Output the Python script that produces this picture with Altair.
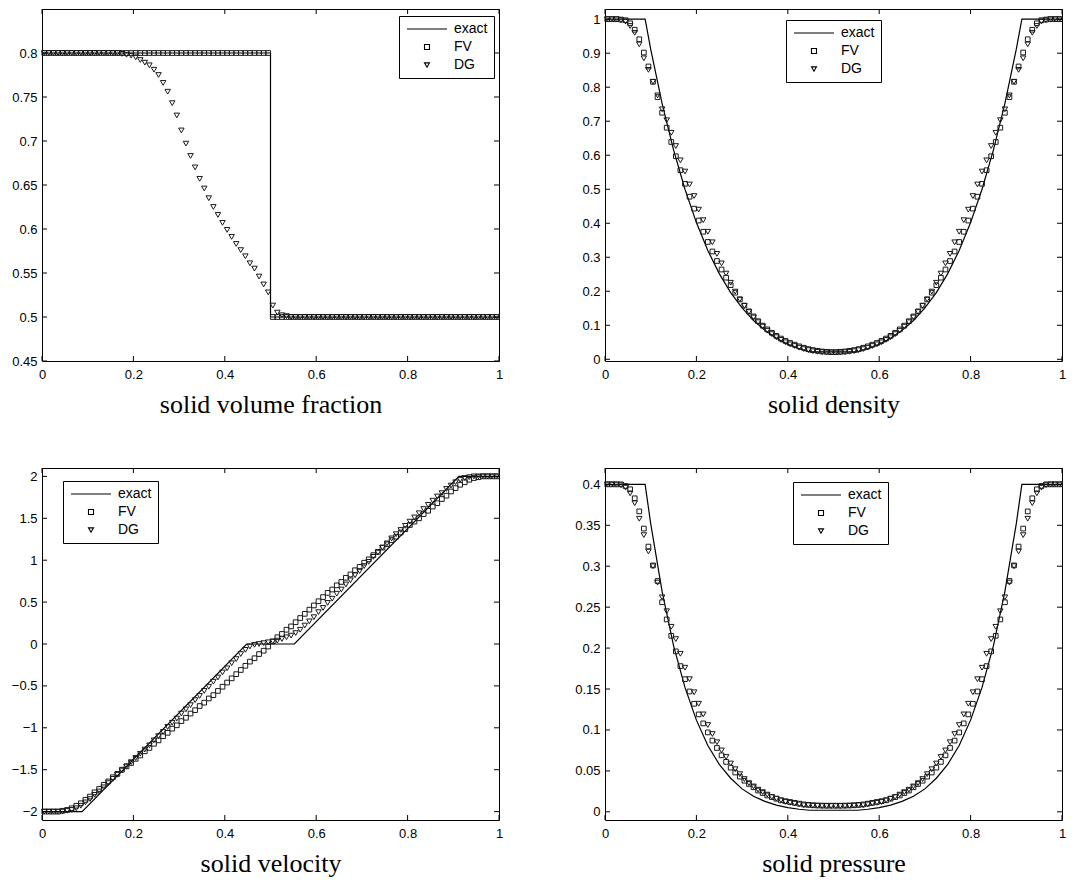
import altair as alt
import pandas as pd

# ---------------- data ----------------
X_CELLS = [round(0.005 + 0.01 * i, 3) for i in range(100)]
X_TICKS = [0, 0.2, 0.4, 0.6, 0.8, 1]

# solid volume fraction
VF_FV = [0.8, 0.8, 0.8, 0.8, 0.8, 0.8, 0.8, 0.8, 0.8, 0.8,
         0.8, 0.8, 0.8, 0.8, 0.8, 0.8, 0.8, 0.8, 0.8, 0.8,
         0.8, 0.8, 0.8, 0.8, 0.8, 0.8, 0.8, 0.8, 0.8, 0.8,
         0.8, 0.8, 0.8, 0.8, 0.8, 0.8, 0.8, 0.8, 0.8, 0.8,
         0.8, 0.8, 0.8, 0.8, 0.8, 0.8, 0.8, 0.8, 0.8, 0.8,
         0.5, 0.5, 0.5, 0.5, 0.5, 0.5, 0.5, 0.5, 0.5, 0.5,
         0.5, 0.5, 0.5, 0.5, 0.5, 0.5, 0.5, 0.5, 0.5, 0.5,
         0.5, 0.5, 0.5, 0.5, 0.5, 0.5, 0.5, 0.5, 0.5, 0.5,
         0.5, 0.5, 0.5, 0.5, 0.5, 0.5, 0.5, 0.5, 0.5, 0.5,
         0.5, 0.5, 0.5, 0.5, 0.5, 0.5, 0.5, 0.5, 0.5, 0.5]
VF_DG = [0.8, 0.8, 0.8, 0.8, 0.8, 0.8, 0.8, 0.8, 0.8, 0.8,
         0.8, 0.8, 0.8, 0.8, 0.8, 0.8, 0.8, 0.799, 0.798, 0.797,
         0.795, 0.792, 0.789, 0.786, 0.781, 0.775, 0.766, 0.756, 0.743, 0.729,
         0.712, 0.697, 0.683, 0.670, 0.657, 0.646, 0.635, 0.625, 0.616, 0.607,
         0.599, 0.591, 0.583, 0.576, 0.569, 0.561, 0.555, 0.546, 0.537, 0.528,
         0.513, 0.505, 0.502, 0.501, 0.5, 0.5, 0.5, 0.5, 0.5, 0.5,
         0.5, 0.5, 0.5, 0.5, 0.5, 0.5, 0.5, 0.5, 0.5, 0.5,
         0.5, 0.5, 0.5, 0.5, 0.5, 0.5, 0.5, 0.5, 0.5, 0.5,
         0.5, 0.5, 0.5, 0.5, 0.5, 0.5, 0.5, 0.5, 0.5, 0.5,
         0.5, 0.5, 0.5, 0.5, 0.5, 0.5, 0.5, 0.5, 0.5, 0.5]
VF_EX_X = [0, 0.5, 0.5, 1]
VF_EX_Y = [0.8, 0.8, 0.5, 0.5]

# solid density
RHO_FV = [1.0, 1.0, 1.0, 0.999, 0.997, 0.988, 0.969, 0.941, 0.902, 0.861,
          0.816, 0.771, 0.725, 0.681, 0.639, 0.597, 0.556, 0.516, 0.478, 0.443,
          0.408, 0.375, 0.345, 0.317, 0.289, 0.264, 0.240, 0.218, 0.196, 0.176,
          0.158, 0.141, 0.126, 0.112, 0.099, 0.088, 0.078, 0.069, 0.061, 0.054,
          0.048, 0.043, 0.038, 0.034, 0.030, 0.027, 0.025, 0.023, 0.022, 0.021,
          0.021, 0.022, 0.023, 0.025, 0.027, 0.030, 0.034, 0.038, 0.043, 0.048,
          0.054, 0.061, 0.069, 0.078, 0.088, 0.099, 0.112, 0.126, 0.141, 0.158,
          0.176, 0.196, 0.218, 0.240, 0.264, 0.289, 0.317, 0.345, 0.375, 0.408,
          0.443, 0.478, 0.516, 0.556, 0.597, 0.639, 0.681, 0.725, 0.771, 0.816,
          0.861, 0.902, 0.941, 0.969, 0.988, 0.997, 0.999, 1.0, 1.0, 1.0]
RHO_DG = [1.0, 1.0, 1.0, 0.997, 0.993, 0.980, 0.960, 0.926, 0.885, 0.851,
          0.816, 0.776, 0.735, 0.703, 0.666, 0.627, 0.585, 0.552, 0.514, 0.480,
          0.440, 0.409, 0.375, 0.344, 0.310, 0.282, 0.252, 0.225, 0.199, 0.176,
          0.157, 0.139, 0.123, 0.109, 0.096, 0.084, 0.074, 0.065, 0.057, 0.050,
          0.044, 0.039, 0.034, 0.030, 0.027, 0.024, 0.022, 0.021, 0.020, 0.020,
          0.020, 0.020, 0.021, 0.022, 0.024, 0.027, 0.030, 0.034, 0.039, 0.044,
          0.050, 0.057, 0.065, 0.074, 0.084, 0.096, 0.109, 0.123, 0.139, 0.157,
          0.176, 0.199, 0.225, 0.252, 0.282, 0.310, 0.344, 0.375, 0.409, 0.440,
          0.480, 0.514, 0.552, 0.585, 0.627, 0.666, 0.703, 0.735, 0.776, 0.816,
          0.851, 0.885, 0.926, 0.960, 0.980, 0.993, 0.997, 1.0, 1.0, 1.0]
RHO_EX_X = [0, 0.0878, 0.1, 0.125, 0.15, 0.175, 0.2, 0.225, 0.25, 0.275, 0.3,
            0.325, 0.35, 0.375, 0.4, 0.425, 0.4478, 0.5522, 0.575, 0.6, 0.625,
            0.65, 0.675, 0.7, 0.725, 0.75, 0.775, 0.8, 0.825, 0.85, 0.875, 0.9,
            0.9122, 1]
RHO_EX_Y = [1, 1, 0.912, 0.752, 0.616, 0.500, 0.402, 0.320, 0.252, 0.196, 0.151,
            0.114, 0.085, 0.062, 0.044, 0.031, 0.022, 0.022, 0.031, 0.044, 0.062,
            0.085, 0.114, 0.151, 0.196, 0.252, 0.320, 0.402, 0.500, 0.616, 0.752,
            0.912, 1, 1]

# solid velocity
U_FV = [-2.0, -2.0, -2.0, -2.0, -1.99, -1.98, -1.96, -1.93, -1.90, -1.86,
        -1.82, -1.77, -1.73, -1.68, -1.64, -1.59, -1.55, -1.50, -1.46, -1.42,
        -1.37, -1.33, -1.28, -1.24, -1.19, -1.15, -1.10, -1.06, -1.01, -0.97,
        -0.92, -0.88, -0.83, -0.79, -0.74, -0.70, -0.65, -0.61, -0.56, -0.51,
        -0.46, -0.41, -0.36, -0.31, -0.26, -0.21, -0.17, -0.12, -0.08, -0.03,
        0.03, 0.08, 0.12, 0.17, 0.21, 0.26, 0.31, 0.36, 0.41, 0.46,
        0.51, 0.56, 0.61, 0.65, 0.70, 0.74, 0.79, 0.83, 0.88, 0.92,
        0.97, 1.01, 1.06, 1.10, 1.15, 1.19, 1.24, 1.28, 1.33, 1.37,
        1.42, 1.46, 1.50, 1.55, 1.59, 1.64, 1.68, 1.73, 1.77, 1.82,
        1.86, 1.90, 1.93, 1.96, 1.98, 1.99, 2.0, 2.0, 2.0, 2.0]
U_DG = [-2.0, -2.0, -2.0, -2.0, -2.0, -1.99, -1.98, -1.96, -1.93, -1.89,
        -1.85, -1.80, -1.76, -1.71, -1.66, -1.61, -1.56, -1.51, -1.46, -1.41,
        -1.36, -1.31, -1.26, -1.21, -1.15, -1.10, -1.05, -0.99, -0.94, -0.89,
        -0.83, -0.78, -0.73, -0.67, -0.62, -0.56, -0.51, -0.45, -0.40, -0.34,
        -0.29, -0.23, -0.18, -0.12, -0.07, -0.03, -0.01, 0.0, 0.01, 0.02,
        0.03, 0.04, 0.06, 0.08, 0.10, 0.13, 0.17, 0.22, 0.27, 0.32,
        0.38, 0.43, 0.49, 0.54, 0.60, 0.65, 0.71, 0.76, 0.82, 0.87,
        0.93, 0.98, 1.04, 1.09, 1.15, 1.20, 1.26, 1.31, 1.36, 1.41,
        1.46, 1.51, 1.56, 1.61, 1.66, 1.71, 1.76, 1.80, 1.85, 1.89,
        1.93, 1.96, 1.98, 1.99, 2.0, 2.0, 2.0, 2.0, 2.0, 2.0]
U_EX_X = [0, 0.0878, 0.4478, 0.5522, 0.9122, 1]
U_EX_Y = [-2, -2, 0, 0, 2, 2]

# solid pressure
P_FV = [0.4, 0.4, 0.4, 0.4, 0.398, 0.394, 0.383, 0.367, 0.346, 0.324,
        0.301, 0.282, 0.256, 0.235, 0.215, 0.196, 0.178, 0.162, 0.147, 0.132,
        0.119, 0.108, 0.097, 0.087, 0.078, 0.069, 0.061, 0.054, 0.048, 0.043,
        0.038, 0.034, 0.030, 0.026, 0.023, 0.020, 0.018, 0.016, 0.014, 0.013,
        0.012, 0.011, 0.010, 0.009, 0.0085, 0.008, 0.0078, 0.0076, 0.0075, 0.0075,
        0.0075, 0.0075, 0.0076, 0.0078, 0.008, 0.0085, 0.009, 0.010, 0.011, 0.012,
        0.013, 0.014, 0.016, 0.018, 0.020, 0.023, 0.026, 0.030, 0.034, 0.038,
        0.043, 0.048, 0.054, 0.061, 0.069, 0.078, 0.087, 0.097, 0.108, 0.119,
        0.132, 0.147, 0.162, 0.178, 0.196, 0.215, 0.235, 0.256, 0.282, 0.301,
        0.324, 0.346, 0.367, 0.383, 0.394, 0.398, 0.4, 0.4, 0.4, 0.4]
P_DG = [0.4, 0.4, 0.4, 0.399, 0.396, 0.389, 0.377, 0.358, 0.338, 0.318,
        0.300, 0.280, 0.262, 0.245, 0.226, 0.211, 0.193, 0.176, 0.162, 0.146,
        0.132, 0.119, 0.106, 0.095, 0.085, 0.075, 0.067, 0.059, 0.052, 0.046,
        0.040, 0.035, 0.031, 0.027, 0.024, 0.021, 0.018, 0.016, 0.014, 0.012,
        0.011, 0.010, 0.009, 0.008, 0.008, 0.0075, 0.0072, 0.007, 0.007, 0.007,
        0.007, 0.007, 0.007, 0.0072, 0.0075, 0.008, 0.008, 0.009, 0.010, 0.011,
        0.012, 0.014, 0.016, 0.018, 0.021, 0.024, 0.027, 0.031, 0.035, 0.040,
        0.046, 0.052, 0.059, 0.067, 0.075, 0.085, 0.095, 0.106, 0.119, 0.132,
        0.146, 0.162, 0.176, 0.193, 0.211, 0.226, 0.245, 0.262, 0.280, 0.300,
        0.318, 0.338, 0.358, 0.377, 0.389, 0.396, 0.399, 0.4, 0.4, 0.4]
P_EX_X = RHO_EX_X
P_EX_Y = [0.4, 0.4, 0.352, 0.269, 0.203, 0.152, 0.112, 0.081, 0.058, 0.041, 0.028,
          0.019, 0.0127, 0.0082, 0.0051, 0.0031, 0.0019, 0.0019, 0.0031, 0.0051,
          0.0082, 0.0127, 0.019, 0.028, 0.041, 0.058, 0.081, 0.112, 0.152, 0.203,
          0.269, 0.352, 0.4, 0.4]

SERIES = ["exact", "FV", "DG"]

# ---------------- styling ----------------
W, H = 457, 352
TICK = 5
SANS = "Liberation Sans"
SERIF = "Liberation Serif"
LINE_PATH = "M-8,0H8"


def panel(title, fv, dg, ex_x, ex_y, ydom, yticks, ylabels, lx, ly):
    pts = pd.DataFrame({"x": X_CELLS + X_CELLS, "y": fv + dg,
                        "s": ["FV"] * len(fv) + ["DG"] * len(dg)})
    ex = pd.DataFrame({"x": ex_x, "y": ex_y, "k": list(range(len(ex_x)))})
    xs = alt.Scale(domain=[0, 1], nice=False, zero=False)
    ys = alt.Scale(domain=ydom, nice=False, zero=False)
    xaxis = alt.Axis(values=X_TICKS, format="~g", title=title, ticks=False,
                     domain=False, grid=False, labelPadding=7, titlePadding=10,
                     labelFlush=False, labelOverlap=False)
    yaxis = alt.Axis(values=ylabels, format="~g", title=None, ticks=False,
                     domain=False, grid=False, labelPadding=5, labelFlush=False,
                     labelOverlap=False)

    def X(f):
        return alt.X(f, scale=xs, axis=xaxis)

    def Y(f):
        return alt.Y(f, scale=ys, axis=yaxis)

    line = alt.Chart(ex).mark_line(color="black", strokeWidth=1.2).encode(
        x=X("x:Q"), y=Y("y:Q"), order=alt.Order("k:Q"),
    )
    points = alt.Chart(pts).mark_point(filled=False, strokeWidth=1,
                                       color="#1a1a1a", opacity=1).encode(
        x=X("x:Q"),
        y=Y("y:Q"),
        shape=alt.Shape(
            "s:N",
            scale=alt.Scale(domain=SERIES,
                            range=[LINE_PATH, "square", "triangle-down"]),
            legend=alt.Legend(
                title=None, orient="none", legendX=lx, legendY=ly,
                direction="vertical", strokeColor="black", fillColor="white",
                padding=6, labelFont=SANS, labelFontSize=14,
                labelColor="black", symbolSize=25, symbolStrokeWidth=1.1,
                symbolStrokeColor="black", symbolFillColor="white",
                symbolOffset=15, labelOffset=20, rowPadding=4,
                cornerRadius=0,
            ),
        ),
        size=alt.Size("s:N", scale=alt.Scale(domain=["FV", "DG"],
                                             range=[22, 30]), legend=None),
    )

    xt = pd.DataFrame({"x": X_TICKS})
    yt = pd.DataFrame({"y": yticks})
    rule = dict(color="black", strokeWidth=1)
    t_bottom = alt.Chart(xt).mark_rule(**rule).encode(
        x=X("x:Q"), y=alt.value(H), y2=alt.value(H - TICK))
    t_top = alt.Chart(xt).mark_rule(**rule).encode(
        x=X("x:Q"), y=alt.value(0), y2=alt.value(TICK))
    t_left = alt.Chart(yt).mark_rule(**rule).encode(
        y=Y("y:Q"), x=alt.value(0), x2=alt.value(TICK))
    t_right = alt.Chart(yt).mark_rule(**rule).encode(
        y=Y("y:Q"), x=alt.value(W - TICK), x2=alt.value(W))

    return alt.layer(line, points, t_bottom, t_top, t_left, t_right).properties(
        width=W, height=H)


p1 = panel("solid volume fraction", VF_FV, VF_DG, VF_EX_X, VF_EX_Y,
           [0.45, 0.85],
           [0.45, 0.5, 0.55, 0.6, 0.65, 0.7, 0.75, 0.8],
           [0.45, 0.5, 0.55, 0.6, 0.65, 0.7, 0.75, 0.8], 357, 7)
p2 = panel("solid density", RHO_FV, RHO_DG, RHO_EX_X, RHO_EX_Y,
           [-0.005, 1.03],
           [0, 0.1, 0.2, 0.3, 0.4, 0.5, 0.6, 0.7, 0.8, 0.9, 1],
           [0, 0.1, 0.2, 0.3, 0.4, 0.5, 0.6, 0.7, 0.8, 0.9, 1], 181, 11)
p3 = panel("solid velocity", U_FV, U_DG, U_EX_X, U_EX_Y,
           [-2.1, 2.1],
           [-2, -1.5, -1, -0.5, 0, 0.5, 1, 1.5, 2],
           [-2, -1.5, -1, -0.5, 0, 0.5, 1, 1.5, 2], 21, 13)
p4 = panel("solid pressure", P_FV, P_DG, P_EX_X, P_EX_Y,
           [-0.01, 0.42],
           [0, 0.05, 0.1, 0.15, 0.2, 0.25, 0.3, 0.35, 0.4],
           [0, 0.05, 0.1, 0.15, 0.2, 0.25, 0.3, 0.35, 0.4], 188, 14)


def indep(c):
    return c.resolve_scale(shape="independent", size="independent").resolve_legend(
        shape="independent", size="independent")


row1 = indep(alt.hconcat(p1, p2, spacing=77))
row2 = indep(alt.hconcat(p3, p4, spacing=70))
chart = indep(alt.vconcat(row1, row2, spacing=49)).properties(
    padding={"left": 10, "top": 8, "right": 4, "bottom": 4},
    background="white",
).configure_axis(
    labelFont=SANS, labelFontSize=13, labelColor="black",
    titleFont=SERIF, titleFontSize=26, titleFontWeight="normal",
    titleColor="black", labelOverlap=False,
).configure_view(stroke="black", strokeWidth=1)

chart.save("out.html", embed_options={"renderer": "svg", "actions": False})
